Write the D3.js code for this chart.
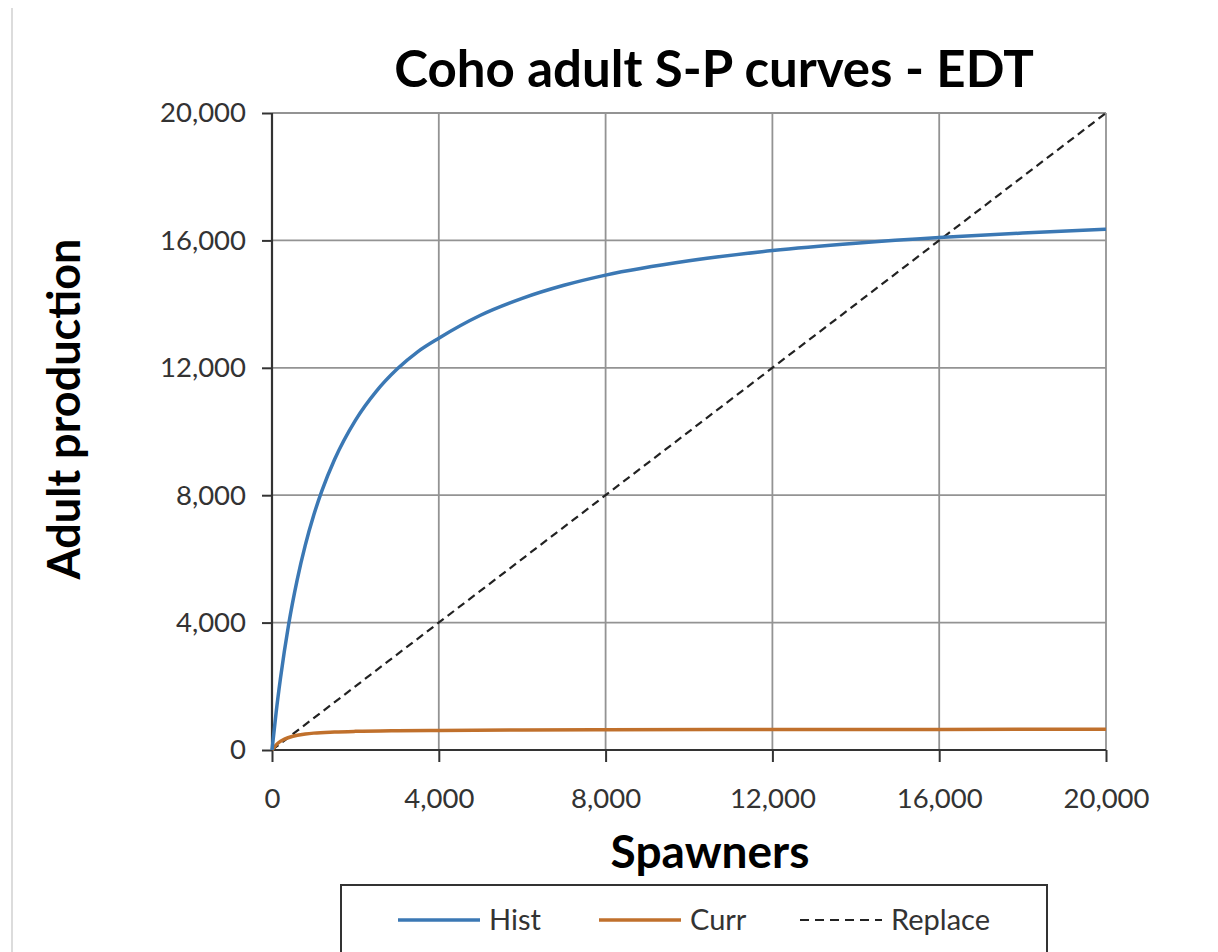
<!DOCTYPE html>
<html>
<head>
<meta charset="utf-8">
<script src="https://cdn.jsdelivr.net/npm/d3@7"></script>
<style>
  html, body { margin: 0; padding: 0; background: #ffffff; }
  svg { display: block; }
</style>
</head>
<body>
<svg id="chart" width="1218" height="952"></svg>
<script>
// ---- Data ----
const title = "Coho adult S-P curves - EDT";
const xLabel = "Spawners";
const yLabel = "Adult production";

const xTicks = [0, 4000, 8000, 12000, 16000, 20000];
const yTicks = [0, 4000, 8000, 12000, 16000, 20000];

const histSpawners = [0, 100, 200, 400, 600, 800, 1000, 1200, 1500, 2000, 2500, 3000, 3500, 4000, 5000, 6000, 7000, 8000, 10000, 12000, 14000, 16000, 18000, 20000];
const histValues   = [0, 1190, 2220, 3950, 5320, 6440, 7370, 8150, 9120, 10350, 11260, 11960, 12510, 12930, 13650, 14180, 14590, 14910, 15360, 15680, 15910, 16090, 16230, 16350];

const currSpawners = [0, 100, 200, 300, 500, 800, 1000, 1500, 2000, 3000, 4000, 6000, 8000, 12000, 16000, 20000];
const currValues   = [0, 160, 270, 340, 430, 500, 530, 565, 585, 605, 615, 628, 635, 642, 646, 650];

const replaceSpawners = [0, 20000];
const replaceValues   = [0, 20000];

const seriesNames = ["Hist", "Curr", "Replace"];
const seriesColors = ["#3b78b4", "#c0702c", "#222222"];

// ---- Layout ----
const svg = d3.select("#chart");
const m = { left: 272, right: 1106, top: 113, bottom: 750 };
const x = d3.scaleLinear().domain([0, 20000]).range([m.left, m.right]);
const y = d3.scaleLinear().domain([0, 20000]).range([m.bottom, m.top]);
const fmt = d3.format(",");
const fontBody = "Lato, 'Open Sans', 'DejaVu Sans', sans-serif";

// left page edge line
svg.append("line").attr("x1", 12).attr("x2", 12).attr("y1", 8).attr("y2", 952)
  .attr("stroke", "#dcdcdc").attr("stroke-width", 2);

// gridlines
svg.append("g").selectAll("line").data(xTicks.slice(1)).join("line")
  .attr("x1", d => x(d)).attr("x2", d => x(d))
  .attr("y1", m.top).attr("y2", m.bottom)
  .attr("stroke", "#939393").attr("stroke-width", 1.8);
svg.append("g").selectAll("line").data(yTicks.slice(1)).join("line")
  .attr("x1", m.left).attr("x2", m.right)
  .attr("y1", d => y(d)).attr("y2", d => y(d))
  .attr("stroke", "#939393").attr("stroke-width", 1.8);

// axes
const xAxis = d3.axisBottom(x).tickValues(xTicks).tickFormat(fmt).tickSize(12).tickPadding(26);
const yAxis = d3.axisLeft(y).tickValues(yTicks).tickFormat(fmt).tickSize(10).tickPadding(16);

const gx = svg.append("g").attr("transform", `translate(0,${m.bottom})`).call(xAxis);
const gy = svg.append("g").attr("transform", `translate(${m.left},0)`).call(yAxis);
[gx, gy].forEach(g => {
  g.select(".domain").attr("stroke", "#333333").attr("stroke-width", 2.2);
  g.selectAll(".tick line").attr("stroke", "#333333").attr("stroke-width", 2);
  g.selectAll(".tick text").attr("fill", "#333333")
    .style("font-family", fontBody).style("font-size", "27.5px");
});
gx.select(".domain").attr("d", `M${m.left},0H${m.right}`);
gy.select(".domain").attr("d", `M0,${m.bottom}V${m.top}`);

// lines
const line = d3.line().x(d => x(d[0])).y(d => y(d[1])).curve(d3.curveMonotoneX);
const histData = histSpawners.map((s, i) => [s, histValues[i]]);
const currData = currSpawners.map((s, i) => [s, currValues[i]]);
const replData = replaceSpawners.map((s, i) => [s, replaceValues[i]]);

svg.append("path").datum(replData).attr("d", line)
  .attr("fill", "none").attr("stroke", seriesColors[2]).attr("stroke-width", 2.2)
  .attr("stroke-dasharray", "8,5");
svg.append("path").datum(currData).attr("d", line)
  .attr("fill", "none").attr("stroke", seriesColors[1]).attr("stroke-width", 3.5);
svg.append("path").datum(histData).attr("d", line)
  .attr("fill", "none").attr("stroke", seriesColors[0]).attr("stroke-width", 3.5);

// title & axis labels
svg.append("text").attr("x", 714).attr("y", 87).attr("text-anchor", "middle")
  .style("font-family", fontBody).style("font-weight", "bold").style("font-size", "51px")
  .attr("fill", "#000").text(title);
svg.append("text").attr("x", 710).attr("y", 868).attr("text-anchor", "middle")
  .style("font-family", fontBody).style("font-weight", "bold").style("font-size", "46px")
  .attr("fill", "#000").text(xLabel);
svg.append("text").attr("transform", "translate(80,409) rotate(-90)").attr("text-anchor", "middle")
  .style("font-family", fontBody).style("font-weight", "bold").style("font-size", "45px")
  .attr("fill", "#000").text(yLabel);

// legend
const lg = svg.append("g");
lg.append("rect").attr("x", 341).attr("y", 885).attr("width", 706).attr("height", 80)
  .attr("fill", "#fff").attr("stroke", "#333").attr("stroke-width", 2);
const legendItems = [
  { name: seriesNames[0], color: seriesColors[0], x0: 398, dash: null, w: 3.5 },
  { name: seriesNames[1], color: seriesColors[1], x0: 599, dash: null, w: 3.5 },
  { name: seriesNames[2], color: seriesColors[2], x0: 800, dash: "9,6", w: 2.2 }
];
legendItems.forEach(it => {
  lg.append("line").attr("x1", it.x0).attr("x2", it.x0 + 82).attr("y1", 920).attr("y2", 920)
    .attr("stroke", it.color).attr("stroke-width", it.w)
    .attr("stroke-dasharray", it.dash);
  lg.append("text").attr("x", it.x0 + 91).attr("y", 930)
    .style("font-family", fontBody).style("font-size", "29px").attr("fill", "#333")
    .text(it.name);
});
</script>
</body>
</html>
